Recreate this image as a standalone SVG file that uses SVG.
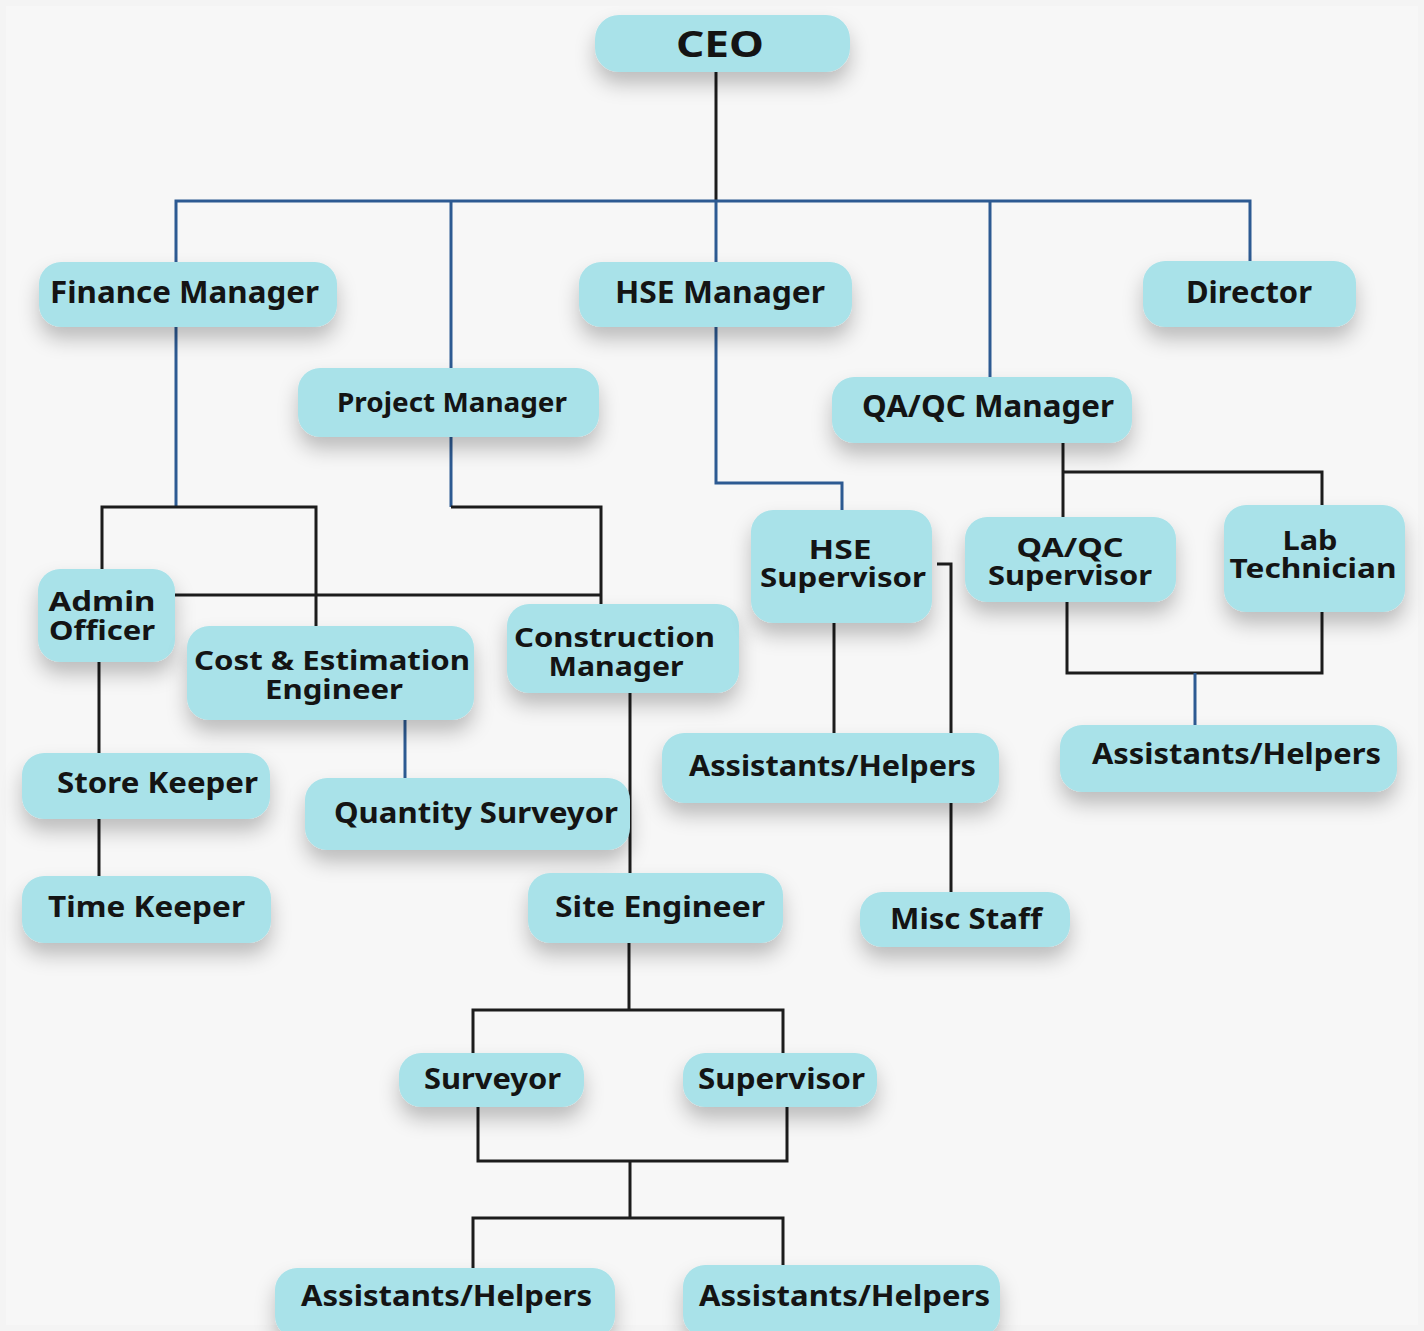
<svg xmlns="http://www.w3.org/2000/svg" width="1424" height="1331" viewBox="0 0 1424 1331">
<style>
.n rect{fill:#a9e2e9}
.n text{font-family:"Noto Sans","Liberation Sans",sans-serif;font-weight:700;fill:#141414;text-anchor:middle}
.k{fill:none;stroke:#1c1c1c;stroke-width:3}
.b{fill:none;stroke:#2d5a92;stroke-width:3}
</style>
<defs>
<filter id="sh" x="-20%" y="-30%" width="140%" height="190%">
<feDropShadow dx="0" dy="12" stdDeviation="10" flood-color="#000" flood-opacity="0.24"/>
</filter>
</defs>
<rect width="1424" height="1331" fill="#f4f4f4"/>
<rect x="6" y="6" width="1412" height="1319" fill="#f7f7f7"/>
<g id="connectors">
<path class="k" d="M716 72V201"/>
<path class="b" d="M176 262V201H1250V261"/>
<path class="b" d="M451 201V368"/>
<path class="b" d="M716 201V262"/>
<path class="b" d="M990 201V377"/>
<path class="b" d="M176 327V507"/>
<path class="b" d="M451 437V507"/>
<path class="b" d="M716 327V483H842V510"/>
<path class="k" d="M102 569V507H316V626"/>
<path class="k" d="M451 507H601V604"/>
<path class="k" d="M175 595H601"/>
<path class="k" d="M99 662V753"/>
<path class="k" d="M99 819V876"/>
<path class="b" d="M405 720V778"/>
<path class="k" d="M630 693V873"/>
<path class="k" d="M834 623V733"/>
<path class="k" d="M937 564H951V892"/>
<path class="k" d="M1063 443V517"/>
<path class="k" d="M1063 472H1322V505"/>
<path class="k" d="M1067 602V673H1322V612"/>
<path class="b" d="M1195 673V725"/>
<path class="k" d="M629 943V1010"/>
<path class="k" d="M473 1053V1010H783V1053"/>
<path class="k" d="M478 1107V1161H787V1107"/>
<path class="k" d="M630 1161V1218"/>
<path class="k" d="M473 1268V1218H783V1265"/>
</g>
<g id="ceo" class="n"><rect x="595" y="15" width="255" height="57" rx="24" filter="url(#sh)"/><text x="720" y="57" font-size="36" textLength="88" lengthAdjust="spacingAndGlyphs">CEO</text></g>
<g id="finance-manager" class="n"><rect x="39" y="262" width="298" height="65" rx="22" filter="url(#sh)"/><text x="184.5" y="303" font-size="30" textLength="269" lengthAdjust="spacingAndGlyphs">Finance Manager</text></g>
<g id="project-manager" class="n"><rect x="298" y="368" width="301" height="69" rx="22" filter="url(#sh)"/><text x="452" y="412" font-size="27" textLength="230" lengthAdjust="spacingAndGlyphs">Project Manager</text></g>
<g id="hse-manager" class="n"><rect x="579" y="262" width="273" height="65" rx="22" filter="url(#sh)"/><text x="720" y="303" font-size="30" textLength="210" lengthAdjust="spacingAndGlyphs">HSE Manager</text></g>
<g id="director" class="n"><rect x="1143" y="261" width="213" height="66" rx="22" filter="url(#sh)"/><text x="1249" y="303" font-size="30" textLength="126" lengthAdjust="spacingAndGlyphs">Director</text></g>
<g id="qaqc-manager" class="n"><rect x="832" y="377" width="300" height="66" rx="22" filter="url(#sh)"/><text x="988" y="417" font-size="30" textLength="252" lengthAdjust="spacingAndGlyphs">QA/QC Manager</text></g>
<g id="admin-officer" class="n"><rect x="38" y="569" width="137" height="93" rx="22" filter="url(#sh)"/><text x="102" y="611" font-size="27" textLength="107" lengthAdjust="spacingAndGlyphs">Admin</text><text x="102" y="640" font-size="27" textLength="106" lengthAdjust="spacingAndGlyphs">Officer</text></g>
<g id="cost-estimation-engineer" class="n"><rect x="187" y="626" width="287" height="94" rx="22" filter="url(#sh)"/><text x="332" y="670" font-size="27" textLength="276" lengthAdjust="spacingAndGlyphs">Cost &amp; Estimation</text><text x="334" y="699" font-size="27" textLength="138" lengthAdjust="spacingAndGlyphs">Engineer</text></g>
<g id="construction-manager" class="n"><rect x="507" y="604" width="232" height="89" rx="22" filter="url(#sh)"/><text x="614.5" y="647" font-size="27" textLength="201" lengthAdjust="spacingAndGlyphs">Construction</text><text x="616" y="676" font-size="27" textLength="135" lengthAdjust="spacingAndGlyphs">Manager</text></g>
<g id="store-keeper" class="n"><rect x="22" y="753" width="248" height="66" rx="22" filter="url(#sh)"/><text x="157.5" y="793" font-size="29" textLength="201" lengthAdjust="spacingAndGlyphs">Store Keeper</text></g>
<g id="time-keeper" class="n"><rect x="22" y="876" width="249" height="67" rx="22" filter="url(#sh)"/><text x="146.5" y="917" font-size="29" textLength="197" lengthAdjust="spacingAndGlyphs">Time Keeper</text></g>
<g id="quantity-surveyor" class="n"><rect x="305" y="778" width="325" height="72" rx="22" filter="url(#sh)"/><text x="476" y="823" font-size="29" textLength="284" lengthAdjust="spacingAndGlyphs">Quantity Surveyor</text></g>
<g id="site-engineer" class="n"><rect x="528" y="873" width="255" height="70" rx="22" filter="url(#sh)"/><text x="660" y="917" font-size="29" textLength="210" lengthAdjust="spacingAndGlyphs">Site Engineer</text></g>
<g id="hse-supervisor" class="n"><rect x="751" y="510" width="181" height="113" rx="22" filter="url(#sh)"/><text x="840" y="559" font-size="27" textLength="63" lengthAdjust="spacingAndGlyphs">HSE</text><text x="843" y="587" font-size="27" textLength="166" lengthAdjust="spacingAndGlyphs">Supervisor</text></g>
<g id="qaqc-supervisor" class="n"><rect x="965" y="517" width="211" height="85" rx="22" filter="url(#sh)"/><text x="1070" y="557" font-size="27" textLength="107" lengthAdjust="spacingAndGlyphs">QA/QC</text><text x="1070" y="585" font-size="27" textLength="164" lengthAdjust="spacingAndGlyphs">Supervisor</text></g>
<g id="lab-technician" class="n"><rect x="1224" y="505" width="181" height="107" rx="22" filter="url(#sh)"/><text x="1310" y="550" font-size="27" textLength="55" lengthAdjust="spacingAndGlyphs">Lab</text><text x="1313" y="578" font-size="27" textLength="167" lengthAdjust="spacingAndGlyphs">Technician</text></g>
<g id="hse-assistants" class="n"><rect x="662" y="733" width="337" height="70" rx="22" filter="url(#sh)"/><text x="832.5" y="776" font-size="29" textLength="287" lengthAdjust="spacingAndGlyphs">Assistants/Helpers</text></g>
<g id="qa-assistants" class="n"><rect x="1060" y="725" width="337" height="67" rx="22" filter="url(#sh)"/><text x="1236.5" y="764" font-size="29" textLength="289" lengthAdjust="spacingAndGlyphs">Assistants/Helpers</text></g>
<g id="misc-staff" class="n"><rect x="860" y="892" width="210" height="55" rx="22" filter="url(#sh)"/><text x="966" y="929" font-size="29" textLength="152" lengthAdjust="spacingAndGlyphs">Misc Staff</text></g>
<g id="surveyor" class="n"><rect x="399" y="1053" width="185" height="54" rx="22" filter="url(#sh)"/><text x="492.5" y="1089" font-size="29" textLength="137" lengthAdjust="spacingAndGlyphs">Surveyor</text></g>
<g id="supervisor" class="n"><rect x="683" y="1053" width="194" height="54" rx="22" filter="url(#sh)"/><text x="781.5" y="1089" font-size="29" textLength="167" lengthAdjust="spacingAndGlyphs">Supervisor</text></g>
<g id="site-assistants-left" class="n"><rect x="275" y="1268" width="340" height="70" rx="22" filter="url(#sh)"/><text x="446.5" y="1306" font-size="29" textLength="291" lengthAdjust="spacingAndGlyphs">Assistants/Helpers</text></g>
<g id="site-assistants-right" class="n"><rect x="683" y="1265" width="317" height="72" rx="22" filter="url(#sh)"/><text x="844.5" y="1306" font-size="29" textLength="291" lengthAdjust="spacingAndGlyphs">Assistants/Helpers</text></g>
</svg>
